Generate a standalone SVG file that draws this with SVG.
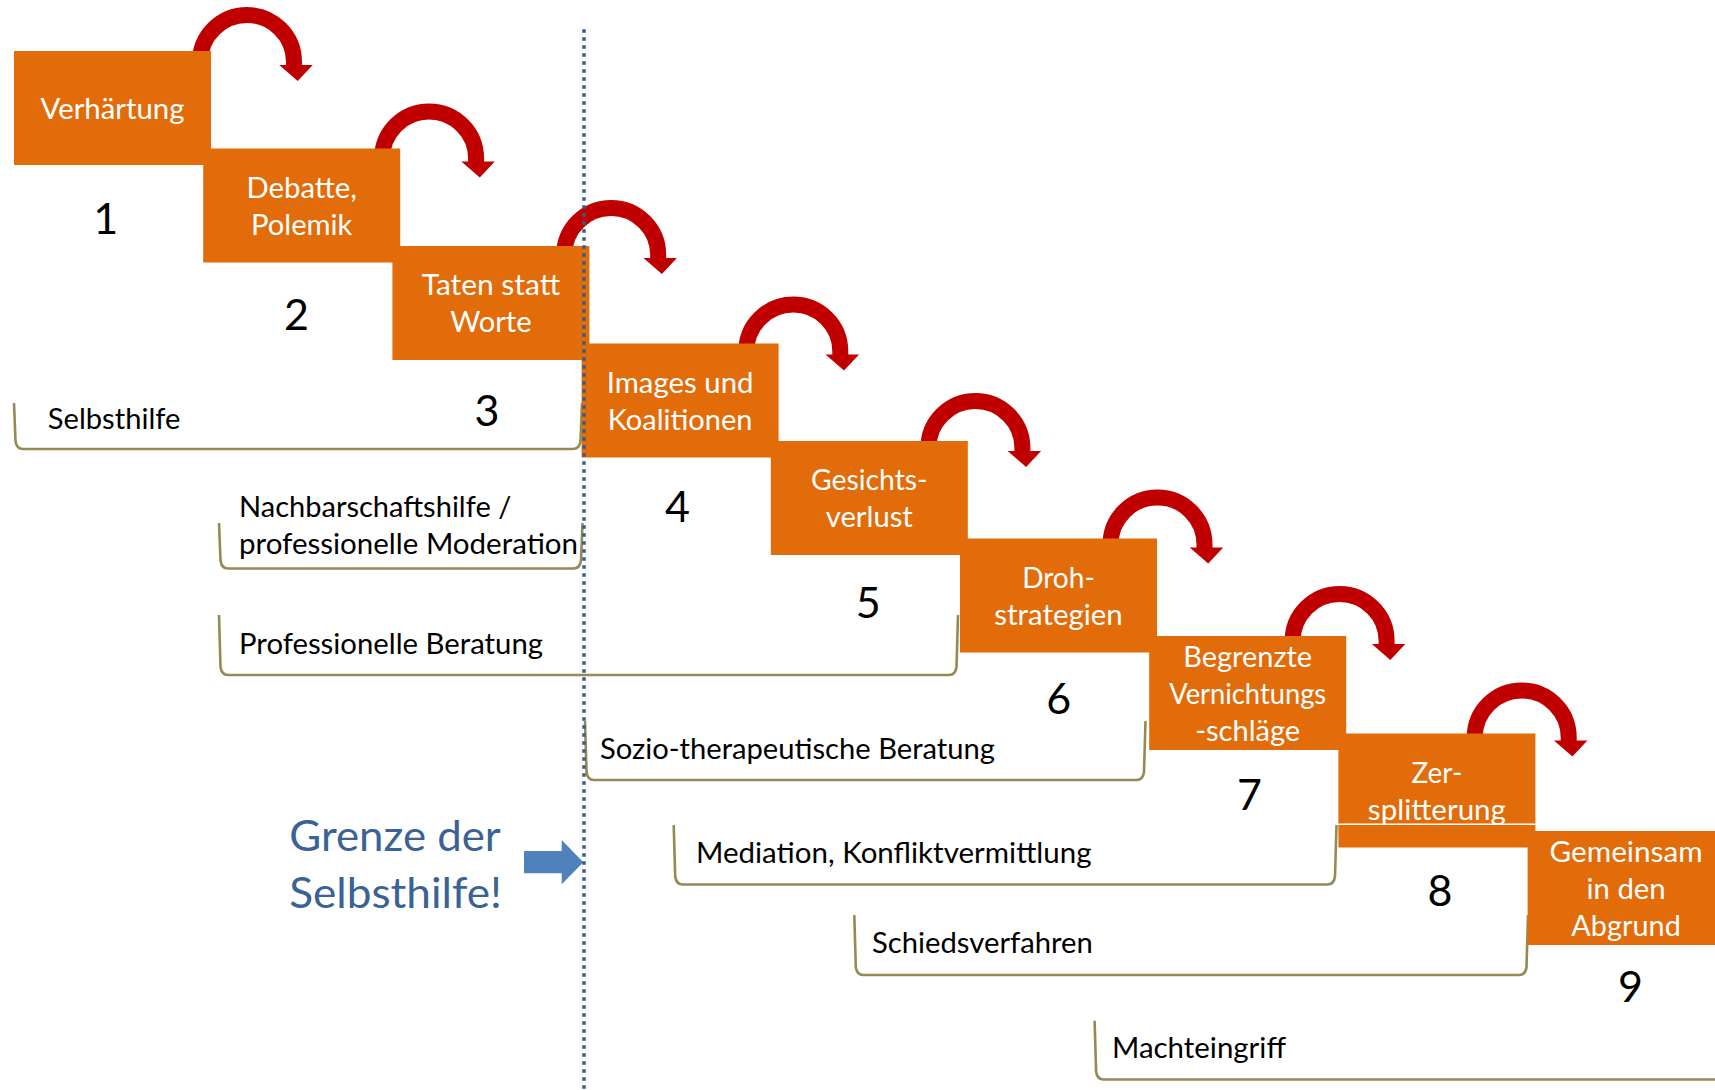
<svg xmlns="http://www.w3.org/2000/svg" xmlns:xlink="http://www.w3.org/1999/xlink" width="1715" height="1090" viewBox="0 0 1715 1090">
<style>
.box{fill:#E36C0A}
.bt{font-family:Lato,"Open Sans","Liberation Sans",sans-serif;font-size:28px;fill:#FFFFFF;text-anchor:middle}
.num{font-family:Lato,"Open Sans","Liberation Sans",sans-serif;font-size:43px;fill:#000000;text-anchor:middle}
.lbl{font-family:Lato,"Open Sans","Liberation Sans",sans-serif;font-size:28.5px;fill:#000000}
.br{fill:none;stroke:#948A54;stroke-width:2.6;stroke-linejoin:round}
.grenze{font-family:Lato,"Open Sans","Liberation Sans",sans-serif;font-size:42px;fill:#3A6294}
</style>
<defs>
<g id="curl">
<path d="M -97.7 -19 A 47 47 0 0 1 -3.7 -19 L -3.7 -15" fill="none" stroke="#C00000" stroke-width="16"/>
<polygon points="-18.5,-16 15,-16 0,0" fill="#C00000"/>
</g>
</defs>
<rect width="1715" height="1090" fill="#FFFFFF"/>
<g id="connectors">
<use xlink:href="#curl" x="297.7" y="81"/>
<use xlink:href="#curl" x="479.8" y="177.5"/>
<use xlink:href="#curl" x="661.9" y="274"/>
<use xlink:href="#curl" x="844" y="370.5"/>
<use xlink:href="#curl" x="1026.1" y="467"/>
<use xlink:href="#curl" x="1208.2" y="563.5"/>
<use xlink:href="#curl" x="1390.3" y="660"/>
<use xlink:href="#curl" x="1572.4" y="756.5"/>
</g>
<g id="brackets">
<g id="b-selbsthilfe">
<path class="br" d="M14 403 L15.5 441 Q16.5 449 23 449 L573 449 Q579.5 449 580.5 441 L582 403"/>
<text class="lbl" x="47.8" y="428.5" textLength="132.6" lengthAdjust="spacingAndGlyphs">Selbsthilfe</text>
</g>
<g id="b-nachbarschaft">
<path class="br" d="M219 523 L220.5 560.5 Q221.5 568.5 228 568.5 L573.5 568.5 Q580 568.5 581 560.5 L582.5 523"/>
<text class="lbl" x="239" y="516.7" textLength="272.3" lengthAdjust="spacingAndGlyphs">Nachbarschaftshilfe /</text>
<text class="lbl" x="239" y="554" textLength="339" lengthAdjust="spacingAndGlyphs">professionelle Moderation</text>
</g>
<g id="b-beratung">
<path class="br" d="M219 615 L220.5 667 Q221.5 675 228 675 L949 675 Q955.5 675 956.5 667 L958 615"/>
<text class="lbl" x="239" y="654" textLength="304" lengthAdjust="spacingAndGlyphs">Professionelle Beratung</text>
</g>
<g id="b-sozio">
<path class="br" d="M585 721 L586.5 772 Q587.5 780 594 780 L1136.5 780 Q1143 780 1144 772 L1145.5 721"/>
<text class="lbl" x="600" y="759" textLength="395" lengthAdjust="spacingAndGlyphs">Sozio-therapeutische Beratung</text>
</g>
<g id="b-mediation">
<path class="br" d="M673.7 825 L675.2 876.5 Q676.2 884.5 682.7 884.5 L1327.5 884.5 Q1334 884.5 1335 876.5 L1336.5 825"/>
<text class="lbl" x="696" y="863" textLength="395.5" lengthAdjust="spacingAndGlyphs">Mediation, Konfliktvermittlung</text>
</g>
<g id="b-schieds">
<path class="br" d="M854.3 915 L855.8 967 Q856.8 975 863.3 975 L1519 975 Q1525.5 975 1526.5 967 L1528 915"/>
<text class="lbl" x="872" y="953" textLength="220.8" lengthAdjust="spacingAndGlyphs">Schiedsverfahren</text>
</g>
<g id="b-macht">
<path class="br" d="M1094.6 1020.7 L1096.1 1071.5 Q1097.1 1079.5 1103.6 1079.5 L1720 1079.5"/>
<text class="lbl" x="1112" y="1057.5" textLength="174" lengthAdjust="spacingAndGlyphs">Machteingriff</text>
</g>
</g>
<g id="step1"><rect class="box" x="14" y="51" width="197" height="114"/><text class="bt" x="112.5" y="119.3" textLength="144" lengthAdjust="spacingAndGlyphs">Verhärtung</text><text class="num" x="105.8" y="234">1</text></g>
<g id="step2"><rect class="box" x="203.2" y="148.5" width="197" height="114"/><text class="bt" x="301.7" y="197.5" textLength="110.5" lengthAdjust="spacingAndGlyphs">Debatte,</text><text class="bt" x="301.7" y="234.5" textLength="101.5" lengthAdjust="spacingAndGlyphs">Polemik</text><text class="num" x="296.4" y="330">2</text></g>
<g id="step3"><rect class="box" x="392.4" y="246" width="197" height="114"/><text class="bt" x="490.9" y="295" textLength="138.5" lengthAdjust="spacingAndGlyphs">Taten statt</text><text class="bt" x="490.9" y="332" textLength="81.4" lengthAdjust="spacingAndGlyphs">Worte</text><text class="num" x="487" y="426">3</text></g>
<g id="step4"><rect class="box" x="581.6" y="343.5" width="197" height="114"/><text class="bt" x="680.1" y="392.5" textLength="146.8" lengthAdjust="spacingAndGlyphs">Images und</text><text class="bt" x="680.1" y="429.5" textLength="144.7" lengthAdjust="spacingAndGlyphs">Koalitionen</text><text class="num" x="677.6" y="522">4</text></g>
<g id="step5"><rect class="box" x="770.8" y="441" width="197" height="114"/><text class="bt" x="869.3" y="490" textLength="116.7" lengthAdjust="spacingAndGlyphs">Gesichts-</text><text class="bt" x="869.3" y="527" textLength="87" lengthAdjust="spacingAndGlyphs">verlust</text><text class="num" x="868.2" y="618">5</text></g>
<g id="step6"><rect class="box" x="960" y="538.5" width="197" height="114"/><text class="bt" x="1058.5" y="587.5" textLength="72.7" lengthAdjust="spacingAndGlyphs">Droh-</text><text class="bt" x="1058.5" y="624.5" textLength="128.6" lengthAdjust="spacingAndGlyphs">strategien</text><text class="num" x="1058.8" y="714">6</text></g>
<g id="step7"><rect class="box" x="1149.2" y="636" width="197" height="114"/><text class="bt" x="1247.7" y="666.5" textLength="128.7" lengthAdjust="spacingAndGlyphs">Begrenzte</text><text class="bt" x="1247.7" y="703.5" textLength="157" lengthAdjust="spacingAndGlyphs">Vernichtungs</text><text class="bt" x="1247.7" y="740.5" textLength="105" lengthAdjust="spacingAndGlyphs">-schläge</text><text class="num" x="1249.4" y="810">7</text></g>
<g id="step8"><rect class="box" x="1338.4" y="733.5" width="197" height="114"/><line x1="1338.4" y1="824.3" x2="1535.4" y2="824.3" stroke="#FFFFFF" stroke-width="1.5"/><text class="bt" x="1436.9" y="782.5" textLength="50.8" lengthAdjust="spacingAndGlyphs">Zer-</text><text class="bt" x="1436.9" y="819.5" textLength="138.1" lengthAdjust="spacingAndGlyphs">splitterung</text><text class="num" x="1440" y="906">8</text></g>
<g id="step9"><rect class="box" x="1527.6" y="831" width="197" height="114"/><text class="bt" x="1626.1" y="861.5" textLength="153" lengthAdjust="spacingAndGlyphs">Gemeinsam</text><text class="bt" x="1626.1" y="898.5" textLength="79.2" lengthAdjust="spacingAndGlyphs">in den</text><text class="bt" x="1626.1" y="935.5" textLength="109.5" lengthAdjust="spacingAndGlyphs">Abgrund</text><text class="num" x="1630.6" y="1002">9</text></g>
<g id="grenze">
<text class="grenze" x="289.3" y="850.5" textLength="211.5" lengthAdjust="spacingAndGlyphs">Grenze der</text>
<text class="grenze" x="289.3" y="907.5" textLength="212.5" lengthAdjust="spacingAndGlyphs">Selbsthilfe!</text>
<polygon points="524,851 561.7,851 561.7,840 583.3,862.3 561.7,884.3 561.7,873.3 524,873.3" fill="#4F81BD"/>
</g>
<line id="boundary" x1="584" y1="29.3" x2="584" y2="1090" stroke="#385D8A" stroke-width="3.5" stroke-dasharray="3.5 4.5"/>
</svg>
